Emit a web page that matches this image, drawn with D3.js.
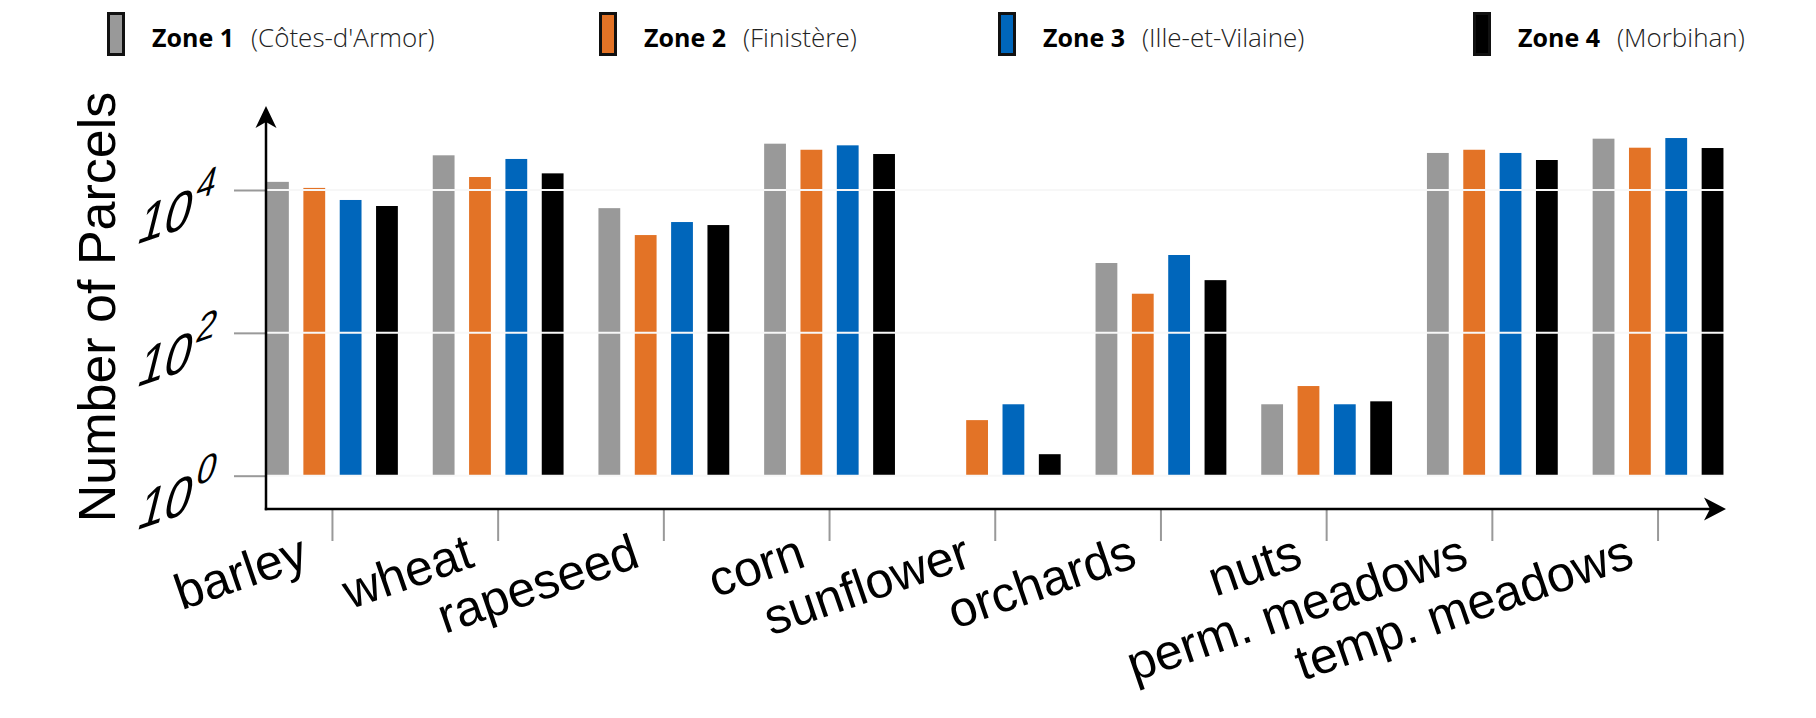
<!DOCTYPE html>
<html>
<head>
<meta charset="utf-8">
<script src="https://cdn.jsdelivr.net/npm/d3@7"></script>
<style>
  body { margin:0; background:#fff; }
  svg { display:block; }
</style>
</head>
<body>
<script>
var categories=["barley","wheat","rapeseed","corn","sunflower","orchards","nuts","perm. meadows","temp. meadows"];
var zones=["Zone 1","Zone 2","Zone 3","Zone 4"];
var departments=["(Côtes-d'Armor)","(Finistère)","(Ille-et-Vilaine)","(Morbihan)"];
var zone1=[13000,30600,5570,44500,null,950,10,33000,52300];
var zone2=[10700,15200,2340,36600,6,353,18,36600,39100];
var zone3=[7250,27200,3560,42200,10,1230,10,33000,53400];
var zone4=[5970,17100,3230,31900,2,547,11,26300,38700];
var yTicks=[1,100,10000];

var colors=["#999999","#e37326","#0066bb","#000000"];
var seriesList=[zone1,zone2,zone3,zone4];

var width=1816, height=718;
var axisX=266, axisY=509;
var labelFont="'Liberation Sans', Arial, sans-serif";

var svg=d3.select("body").append("svg").attr("width",width).attr("height",height);

var y=d3.scaleLog()
    .domain([1,10000])
    .range([475.7,190]);

var x0=d3.scaleBand()
    .domain(categories)
    .range([249.6,1740.9]);

var x1=d3.scaleBand()
    .domain(zones)
    .range([0,x0.bandwidth()])
    .paddingInner(0.4)
    .paddingOuter(0.48);

// flat table for bars (skip missing values)
var bars=[];
categories.forEach(function(c,i){
  zones.forEach(function(z,j){
    if(seriesList[j][i]!=null) bars.push({cat:c, zone:z, value:seriesList[j][i], color:colors[j]});
  });
});

// gray tick stubs left of the y axis
var yAxis=d3.axisLeft(y).tickValues(yTicks).tickSize(32).tickFormat("");
var yg=svg.append("g").attr("transform","translate("+axisX+",0)").call(yAxis);
yg.select(".domain").remove();
yg.selectAll(".tick line").attr("stroke","#999").attr("stroke-width",2);

// gray tick stubs below the x axis
var xAxis=d3.axisBottom(x0).tickSize(32).tickFormat("");
var xg=svg.append("g").attr("transform","translate(0,"+axisY+")").call(xAxis);
xg.select(".domain").remove();
xg.selectAll(".tick line").attr("stroke","#999").attr("stroke-width",2);

// bars
svg.append("g")
  .selectAll("rect")
  .data(bars)
  .enter().append("rect")
    .attr("x",function(d){ return x0(d.cat)+x1(d.zone); })
    .attr("y",function(d){ return y(d.value); })
    .attr("width",x1.bandwidth())
    .attr("height",function(d){ return y(1)-y(d.value); })
    .attr("fill",function(d){ return d.color; });

// white grid lines over the bars
svg.append("g")
  .selectAll("line")
  .data(yTicks)
  .enter().append("line")
    .attr("x1",axisX).attr("x2",1724)
    .attr("y1",function(d){ return y(d); })
    .attr("y2",function(d){ return y(d); })
    .attr("stroke","#f7f7f7")
    .attr("stroke-width",2);

// black axes with arrow heads
svg.append("line")
  .attr("x1",axisX).attr("y1",axisY+1.2)
  .attr("x2",axisX).attr("y2",115)
  .attr("stroke","#000").attr("stroke-width",2.5);
svg.append("line")
  .attr("x1",axisX-1.2).attr("y1",axisY)
  .attr("x2",1715).attr("y2",axisY)
  .attr("stroke","#000").attr("stroke-width",2.5);
svg.append("path")
  .attr("d","M0,0 L-22,-11.5 L-16,0 L-22,11.5 Z")
  .attr("transform","translate(1726,"+axisY+")");
svg.append("path")
  .attr("d","M0,0 L-22,-10.5 L-16,0 L-22,10.5 Z")
  .attr("transform","translate("+axisX+",106) rotate(-90)");

// y tick labels 10^n, tilted and slanted
var yLab=svg.append("g")
  .selectAll("text")
  .data(yTicks)
  .enter().append("text")
    .attr("transform",function(d){ return "translate(135,"+(y(d)+55)+") rotate(-19) skewX(-33)"; })
    .attr("font-family",labelFont)
    .attr("font-size",50)
    .attr("fill","#000");
yLab.append("tspan").text("10");
yLab.append("tspan")
    .attr("dy",-23)
    .attr("font-size",36)
    .text(function(d){ return Math.round(Math.log10(d)); });

// category labels, tilted
svg.append("g")
  .selectAll("text")
  .data(categories)
  .enter().append("text")
    .attr("transform",function(d){ return "translate("+(x0(d)+x0.bandwidth()/2-22)+",566) rotate(-19)"; })
    .attr("text-anchor","end")
    .attr("font-family",labelFont)
    .attr("font-size",50)
    .attr("fill","#000")
    .text(function(d){ return d; });

// y title
svg.append("text")
  .attr("transform","translate(115,307) rotate(-90)")
  .attr("text-anchor","middle")
  .attr("font-family",labelFont)
  .attr("font-size",52)
  .attr("fill","#000")
  .text("Number of Parcels");

// legend
var legendX=[107,599,998,1473];
var legend=svg.append("g")
  .selectAll("g")
  .data(zones)
  .enter().append("g")
    .attr("transform",function(d,i){ return "translate("+legendX[i]+",0)"; });

legend.append("rect")
  .attr("x",1.5).attr("y",13.5)
  .attr("width",15).attr("height",41)
  .attr("fill",function(d,i){ return colors[i]; })
  .attr("stroke","#111")
  .attr("stroke-width",3);

legend.append("text")
  .attr("class","zone")
  .attr("x",45).attr("y",47)
  .attr("font-family","'Open Sans', sans-serif")
  .attr("font-weight","bold")
  .attr("font-size",25)
  .attr("fill","#000")
  .text(function(d){ return d; });

legend.each(function(d,i){
  var g=d3.select(this);
  var w=g.select("text.zone").node().getComputedTextLength();
  g.append("text")
    .attr("x",45+w+17).attr("y",47)
    .attr("font-family","'Open Sans', sans-serif")
    .attr("font-weight",300)
    .attr("font-size",26)
    .attr("fill","#222")
    .text(departments[i]);
});
</script>
</body>
</html>
